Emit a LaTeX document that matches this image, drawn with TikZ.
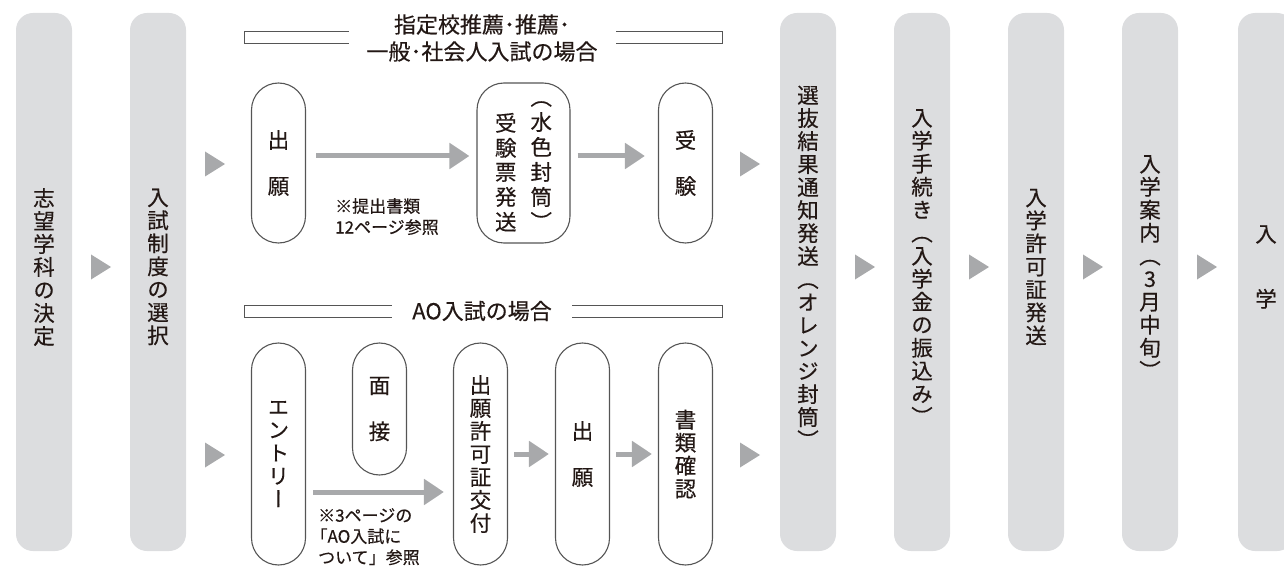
\documentclass[tikz,border=0pt]{standalone}
\usepackage{fontspec}
\setmainfont{Noto Sans CJK JP}[FakeBold=0.4]
\newfontfamily\vertfont{Noto Sans CJK JP}[RawFeature=+vert, FakeBold=0.4]
\usetikzlibrary{arrows.meta,positioning}

\definecolor{colgray}{HTML}{DCDDDF}
\definecolor{arrgray}{HTML}{A8A9AB}
\definecolor{linegray}{HTML}{555555}
\definecolor{ink}{HTML}{231815}

\tikzset{
  stage/.style={fill=colgray, rounded corners=17pt, minimum width=56pt, minimum height=538pt},
  vtext/.style={align=center, inner sep=0pt, text=ink, font=\vertfont\fontsize{21.5}{23}\selectfont},
  box/.style={vtext, draw=linegray, line width=1.1pt, rounded corners=27pt, minimum width=54pt},
  flow/.style={draw=arrgray, line width=5pt, -{Triangle[length=20pt,width=25pt]}},
  note/.style={anchor=north west, align=left, inner sep=0pt, text=ink, font=\fontsize{17}{21}\selectfont},
  bar/.style={draw=linegray, line width=0.9pt, fill=white},
  head/.style={fill=white, align=center, inner ysep=2pt, text=ink, font=\fontsize{22}{27}\selectfont},
  tri/.pic={\fill[arrgray] (-10,-12.5) -- (10,0) -- (-10,12.5) -- cycle;}
}

\begin{document}
\begin{tikzpicture}[x=1pt,y=-1pt]
\useasboundingbox (0,0) rectangle (1284,569);

% main steps
\node[stage, label={[vtext, yshift=15pt]center:志\\望\\学\\科\\の\\決\\定}] (c1) at (44,282) {};
\node[stage, label={[vtext, yshift=15pt]center:入\\試\\制\\度\\の\\選\\択}] (c2) at (158,282) {};
\node[stage, label={[vtext, yshift=15pt]center:選\\抜\\結\\果\\通\\知\\発\\送\\（\\オ\\レ\\ン\\ジ\\封\\筒\\）}] (c3) at (808,282) {};
\node[stage, label={[vtext, yshift=15pt]center:入\\学\\手\\続\\き\\（\\入\\学\\金\\の\\振\\込\\み\\）}] (c4) at (922,282) {};
\node[stage, label={[vtext, yshift=15pt]center:入\\学\\許\\可\\証\\発\\送}] (c5) at (1036,282) {};
\node[stage, label={[vtext, yshift=15pt]center:入\\学\\案\\内\\（\\3\\月\\中\\旬\\）}] (c6) at (1150,282) {};
\node[stage, label={[vtext, yshift=15pt]center:入\\[42pt]学}] (c7) at (1266,282) {};

\path (101,267) pic {tri} (215,164) pic {tri} (215,455) pic {tri}
      (750,164) pic {tri} (750,455) pic {tri};
\foreach \x in {865,979,1093,1207} \path (\x,267) pic {tri};

% general / recommendation
\draw[bar] (244,31) rectangle (722,43);
\node[head, inner xsep=18pt] (hd1) at (482,38) {指定校推薦･推薦･\\一般･社会人入試の場合};
\node[box, minimum height=160pt] (up1) at (278.5,163) {出\\[23pt]願};
\node[box, minimum height=160pt, minimum width=93pt] (up2) at (523.5,163)
  {\begin{tabular}{@{}c@{\hspace{14pt}}c@{}}
   \begin{tabular}[b]{@{}c@{}}受\\験\\票\\発\\送\end{tabular} &
   \begin{tabular}[b]{@{}c@{}}（\\水\\色\\封\\筒\\）\end{tabular}
   \end{tabular}};
\node[box, minimum height=160pt] (up3) at (685.5,163) {受\\[23pt]験};
\node[note] (n1) at (335,198) {※提出書類\\12ページ参照};
\draw[flow, shorten <=10pt, shorten >=7pt] ([yshift=7pt]up1.east) -- ([yshift=7pt]up2.west);
\draw[flow, shorten <=7pt, shorten >=13pt] ([yshift=7pt]up2.east) -- ([yshift=7pt]up3.west);

% AO
\draw[bar] (244,305) rectangle (722,317);
\node[head, inner xsep=20pt] (hd2) at (482,311) {AO入試の場合};
\node[box, minimum height=222pt] (ao1) at (278.5,454) {エ\\ン\\ト\\リ\\ー};
\node[box, minimum height=132pt] (ao2) at (379.5,409) {面\\[23pt]接};
\node[box, minimum height=222pt] (ao3) at (480.5,454) {出\\願\\許\\可\\証\\交\\付};
\node[box, minimum height=222pt] (ao4) at (582.5,454) {出\\[23pt]願};
\node[box, minimum height=222pt] (ao5) at (685.5,454) {書\\類\\確\\認};
\node[note] (n2) at (318,508) {※3ページの\\\hspace*{-0.45em}「AO入試に\\ついて」参照};
\draw[flow, shorten <=7pt, shorten >=9pt] ([yshift=-38pt]ao1.east) -- ([yshift=-38pt]ao3.west);
\draw[flow, shorten <=6pt, shorten >=6pt] (ao3) -- (ao4);
\draw[flow, shorten <=6pt, shorten >=6pt] (ao4) -- (ao5);
\end{tikzpicture}
\end{document}
